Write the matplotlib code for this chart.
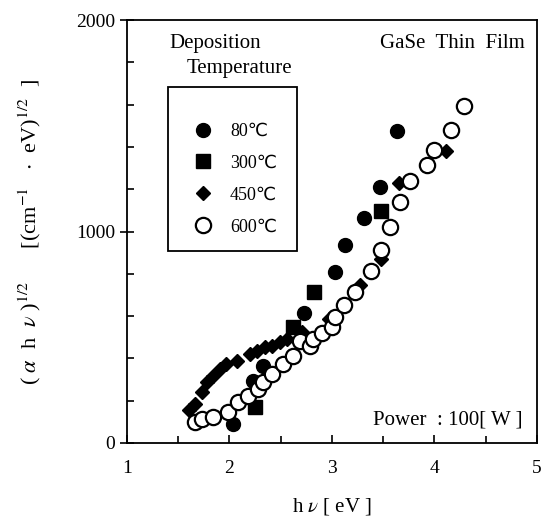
import numpy as np
import matplotlib
matplotlib.use('Agg')
import matplotlib.pyplot as plt
from matplotlib.patches import Rectangle

plt.rcParams['font.family'] = ['Liberation Serif', 'DejaVu Sans']
plt.rcParams['mathtext.fontset'] = 'stix'

# 80 C (filled circles)
x80 = [2.03, 2.23, 2.33, 2.73, 3.03, 3.13, 3.31, 3.47, 3.64]
y80 = [90, 295, 365, 615, 810, 935, 1065, 1210, 1475]

# 300 C (filled squares)
x300 = [2.25, 2.62, 2.83, 3.48]
y300 = [170, 550, 712, 1095]

# 450 C (filled diamonds)
x450 = [1.61, 1.66, 1.73, 1.78, 1.84, 1.91, 1.97, 2.07, 2.20, 2.27, 2.35,
        2.42, 2.49, 2.56, 2.71, 2.97, 3.27, 3.48, 3.65, 4.11]
y450 = [155, 185, 240, 290, 318, 350, 372, 388, 420, 435, 452,
        458, 478, 490, 525, 585, 745, 870, 1228, 1380]

# 600 C (open circles)
x600 = [1.66, 1.73, 1.84, 1.99, 2.08, 2.18, 2.28, 2.33, 2.42, 2.52, 2.62,
        2.69, 2.79, 2.82, 2.90, 3.00, 3.03, 3.12, 3.23, 3.38, 3.48, 3.57,
        3.66, 3.76, 3.93, 4.00, 4.16, 4.29]
y600 = [100, 115, 125, 148, 192, 222, 255, 288, 326, 372, 410,
        480, 458, 490, 522, 548, 595, 652, 712, 812, 912, 1020,
        1140, 1238, 1315, 1385, 1478, 1592]

labels = ['80\u2103', '300\u2103', '450\u2103', '600\u2103']

fig = plt.figure(figsize=(5.45, 5.28), dpi=100)
ax = fig.add_axes([0.233, 0.161, 0.752, 0.801])

ax.plot(x80, y80, 'o', color='black', ms=10, ls='none', label=labels[0])
ax.plot(x300, y300, 's', color='black', ms=10, ls='none', label=labels[1])
ax.plot(x450, y450, 'D', color='black', ms=7.5, ls='none', label=labels[2])
ax.plot(x600, y600, 'o', mfc='white', mec='black', mew=1.6, ms=11, ls='none', label=labels[3])

ax.set_xlim(1, 5)
ax.set_ylim(0, 2000)
ax.set_xticks([1, 2, 3, 4, 5])
ax.set_xticks(np.arange(1.5, 5, 0.5), minor=True)
ax.set_yticks([0, 1000, 2000])
ax.set_yticks(np.arange(200, 2000, 200), minor=True)
ax.tick_params(which='both', direction='in', labelsize=14, width=1.2)
ax.tick_params(which='major', length=6)
ax.tick_params(which='minor', length=5)
ax.tick_params(axis='y', which='major', direction='inout', length=10)
ax.tick_params(axis='x', pad=12)
for s in ax.spines.values():
    s.set_linewidth(1.3)

ax.set_xlabel(r'h $\nu$ [ eV ]', fontsize=15, labelpad=14)
ax.set_ylabel(r'( $\alpha$  h  $\nu$ )$^{1/2}$      [(cm$^{-1}$   $\cdot$  eV)$^{1/2}$  ]',
              fontsize=16, labelpad=24)

ax.text(0.215, 0.945, 'Deposition', transform=ax.transAxes, fontsize=15,
        ha='center', va='center')
ax.text(0.275, 0.885, 'Temperature', transform=ax.transAxes, fontsize=15,
        ha='center', va='center')
ax.text(0.97, 0.945, 'GaSe  Thin  Film', transform=ax.transAxes, fontsize=15,
        ha='right', va='center')
ax.text(0.965, 0.055, 'Power  : 100[ W ]', transform=ax.transAxes, fontsize=15,
        ha='right', va='center')

# legend box
ax.add_patch(Rectangle((0.1, 0.454), 0.315, 0.388, transform=ax.transAxes,
                       fill=False, edgecolor='black', lw=1.3, zorder=3))
leg = ax.legend(loc='upper left', bbox_to_anchor=(0.163, 0.757), frameon=False,
                fontsize=13, borderpad=0, borderaxespad=0, handlelength=1.0,
                handletextpad=1.0, labelspacing=0.82)

fig.savefig('out.png', dpi=100)
